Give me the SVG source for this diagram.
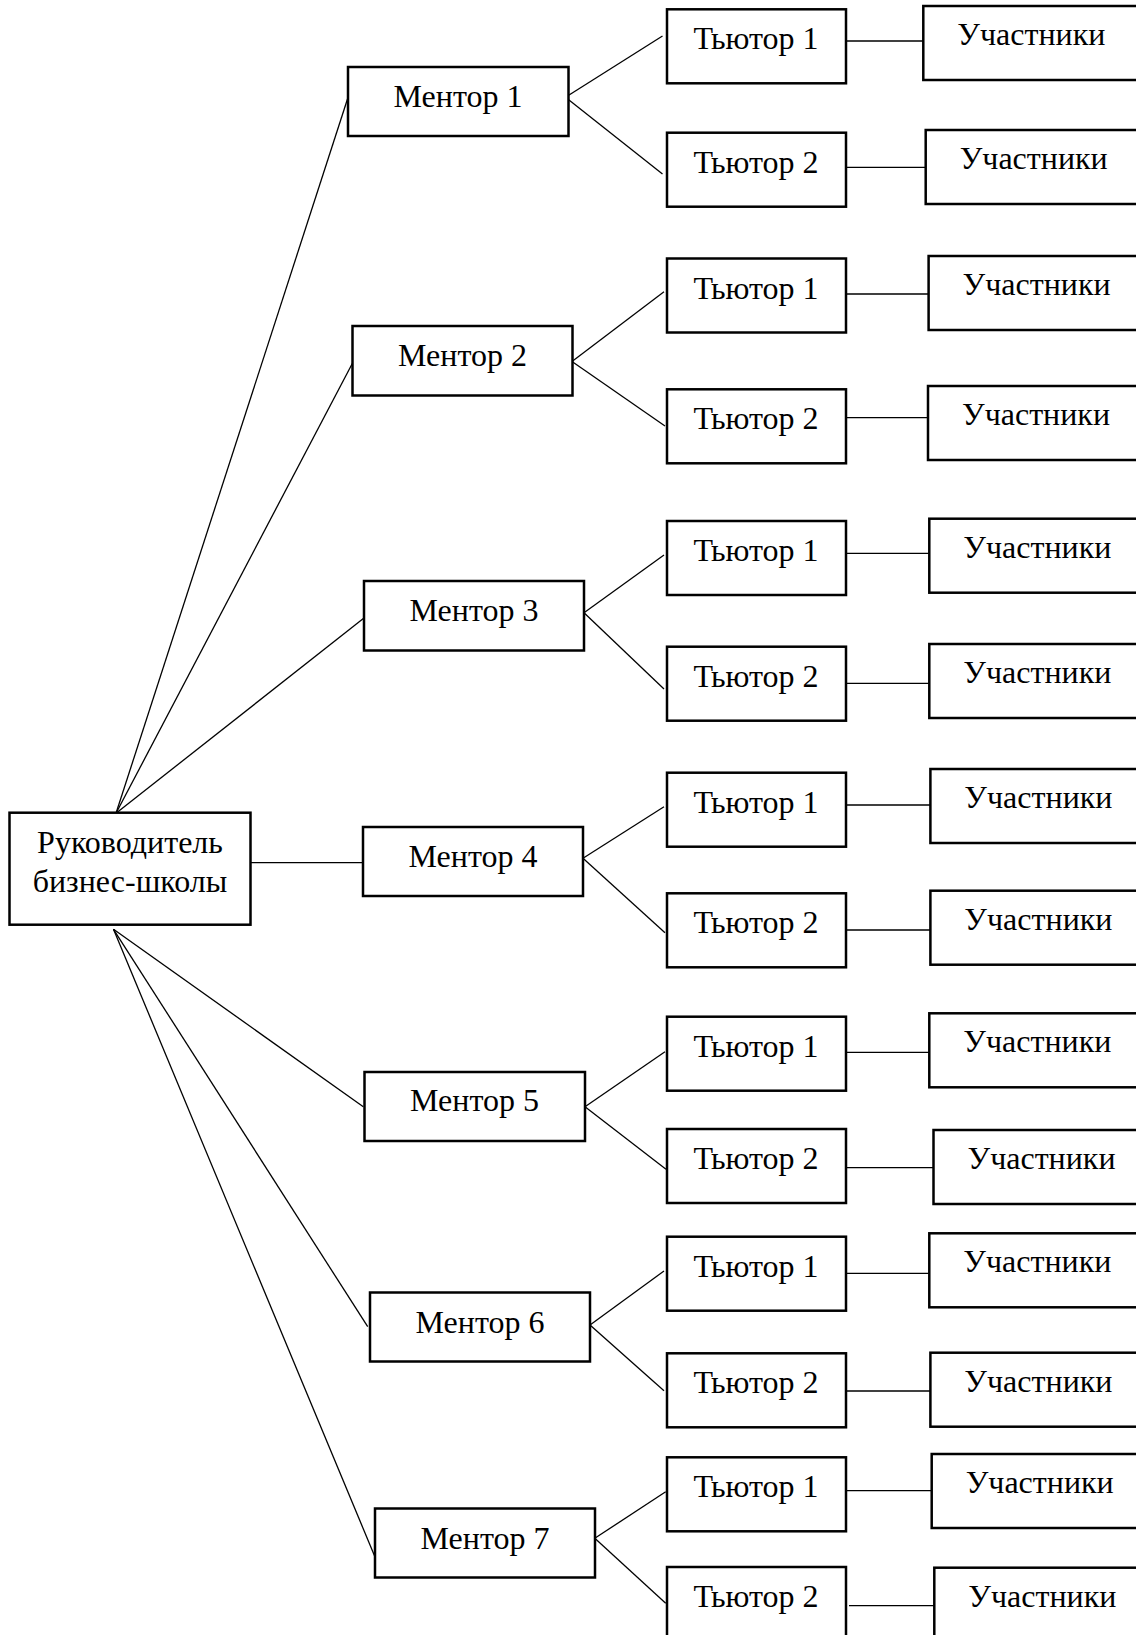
<svg xmlns="http://www.w3.org/2000/svg" width="1136" height="1635" viewBox="0 0 1136 1635">
<style>
.box{fill:#fff;stroke:#000;stroke-width:2.5}
.t{font-family:"Liberation Serif","Times New Roman",serif;font-size:32px;fill:#000;text-anchor:middle}
.c line{stroke:#000;stroke-width:1.3;fill:none}
</style>
<rect width="1136" height="1635" fill="#fff"/>
<g id="connectors" class="c">
<line x1="116" y1="813.3" x2="347.5" y2="99"/>
<line x1="116" y1="813.3" x2="352.3" y2="363.5"/>
<line x1="116" y1="813.3" x2="364" y2="618"/>
<line x1="250.7" y1="862.7" x2="363" y2="862.7"/>
<line x1="113.5" y1="929.3" x2="363.3" y2="1106.7"/>
<line x1="113.5" y1="929.3" x2="367.7" y2="1326.7"/>
<line x1="113.5" y1="929.3" x2="374.6" y2="1556"/>
<line x1="565.5" y1="97.3" x2="662.5" y2="36"/>
<line x1="565.5" y1="97.3" x2="662.5" y2="174"/>
<line x1="572" y1="361.5" x2="664" y2="291.7"/>
<line x1="572" y1="361.5" x2="665" y2="426"/>
<line x1="584" y1="612.7" x2="664" y2="555"/>
<line x1="584" y1="612.7" x2="664" y2="689"/>
<line x1="583" y1="858.3" x2="664" y2="806.7"/>
<line x1="583" y1="858.3" x2="665" y2="932.7"/>
<line x1="585" y1="1106.7" x2="665" y2="1051.7"/>
<line x1="585" y1="1106.7" x2="666" y2="1169.3"/>
<line x1="590" y1="1325" x2="664" y2="1271"/>
<line x1="590" y1="1325" x2="664" y2="1390.7"/>
<line x1="594.8" y1="1538.3" x2="665.7" y2="1491.7"/>
<line x1="594.8" y1="1538.3" x2="665.7" y2="1603.3"/>
<line x1="844" y1="41" x2="923.3" y2="41"/>
<line x1="844" y1="167.3" x2="925.7" y2="167.3"/>
<line x1="844" y1="294" x2="928.6" y2="294"/>
<line x1="844" y1="417.7" x2="928" y2="417.7"/>
<line x1="844" y1="553.3" x2="929.3" y2="553.3"/>
<line x1="844" y1="683.3" x2="929.3" y2="683.3"/>
<line x1="844" y1="805" x2="930.4" y2="805"/>
<line x1="844" y1="930" x2="930.4" y2="930"/>
<line x1="844" y1="1052.3" x2="929.3" y2="1052.3"/>
<line x1="846.7" y1="1167.7" x2="933.5" y2="1167.7"/>
<line x1="844" y1="1273.3" x2="929.3" y2="1273.3"/>
<line x1="844" y1="1391" x2="930.4" y2="1391"/>
<line x1="844" y1="1490.7" x2="931.7" y2="1490.7"/>
<line x1="849" y1="1605.7" x2="934.3" y2="1605.7"/>
</g>
<g id="root"><rect class="box" x="9.5" y="812.7" width="241" height="112"/><text class="t" x="130" y="853">Руководитель</text><text class="t" x="130" y="892">бизнес-школы</text></g>
<g id="mentor1"><rect class="box" x="348" y="67" width="220.5" height="69"/><text class="t" x="458" y="107">Ментор 1</text></g>
<g id="mentor2"><rect class="box" x="352.5" y="326" width="220" height="69.5"/><text class="t" x="462.5" y="366">Ментор 2</text></g>
<g id="mentor3"><rect class="box" x="364" y="581" width="220" height="69.5"/><text class="t" x="474" y="621">Ментор 3</text></g>
<g id="mentor4"><rect class="box" x="363" y="827" width="220" height="69"/><text class="t" x="473" y="867">Ментор 4</text></g>
<g id="mentor5"><rect class="box" x="364.5" y="1072" width="220.5" height="69"/><text class="t" x="474.5" y="1111">Ментор 5</text></g>
<g id="mentor6"><rect class="box" x="370" y="1292.5" width="220" height="69"/><text class="t" x="480" y="1332.5">Ментор 6</text></g>
<g id="mentor7"><rect class="box" x="375" y="1508.5" width="220" height="69"/><text class="t" x="485" y="1548.5">Ментор 7</text></g>
<g id="tutor1-1"><rect class="box" x="667" y="9.3" width="179" height="74"/><text class="t" x="756" y="49.3">Тьютор 1</text></g>
<g id="tutor1-2"><rect class="box" x="667" y="132.7" width="179" height="74"/><text class="t" x="756" y="172.7">Тьютор 2</text></g>
<g id="tutor2-1"><rect class="box" x="667" y="258.5" width="179" height="74"/><text class="t" x="756" y="298.5">Тьютор 1</text></g>
<g id="tutor2-2"><rect class="box" x="667" y="389.3" width="179" height="74"/><text class="t" x="756" y="429.3">Тьютор 2</text></g>
<g id="tutor3-1"><rect class="box" x="667" y="521" width="179" height="74"/><text class="t" x="756" y="561">Тьютор 1</text></g>
<g id="tutor3-2"><rect class="box" x="667" y="646.7" width="179" height="74"/><text class="t" x="756" y="686.7">Тьютор 2</text></g>
<g id="tutor4-1"><rect class="box" x="667" y="772.7" width="179" height="74"/><text class="t" x="756" y="812.7">Тьютор 1</text></g>
<g id="tutor4-2"><rect class="box" x="667" y="893.3" width="179" height="74"/><text class="t" x="756" y="933.3">Тьютор 2</text></g>
<g id="tutor5-1"><rect class="box" x="667" y="1016.7" width="179" height="74"/><text class="t" x="756" y="1056.7">Тьютор 1</text></g>
<g id="tutor5-2"><rect class="box" x="667" y="1129" width="179" height="74"/><text class="t" x="756" y="1169">Тьютор 2</text></g>
<g id="tutor6-1"><rect class="box" x="667" y="1236.7" width="179" height="74"/><text class="t" x="756" y="1276.7">Тьютор 1</text></g>
<g id="tutor6-2"><rect class="box" x="667" y="1353.3" width="179" height="74"/><text class="t" x="756" y="1393.3">Тьютор 2</text></g>
<g id="tutor7-1"><rect class="box" x="667" y="1457.3" width="179" height="74"/><text class="t" x="756" y="1497.3">Тьютор 1</text></g>
<g id="tutor7-2"><rect class="box" x="667" y="1567" width="179" height="74"/><text class="t" x="756" y="1607">Тьютор 2</text></g>
<g id="part1-1"><rect class="box" x="923.3" y="6" width="220" height="74"/><text class="t" x="1031.3" y="45">Участники</text></g>
<g id="part1-2"><rect class="box" x="925.7" y="130" width="220" height="74"/><text class="t" x="1033.7" y="169">Участники</text></g>
<g id="part2-1"><rect class="box" x="928.6" y="256" width="220" height="74"/><text class="t" x="1036.6" y="295">Участники</text></g>
<g id="part2-2"><rect class="box" x="928" y="386" width="220" height="74"/><text class="t" x="1036" y="425">Участники</text></g>
<g id="part3-1"><rect class="box" x="929.3" y="518.7" width="220" height="74"/><text class="t" x="1037.3" y="557.7">Участники</text></g>
<g id="part3-2"><rect class="box" x="929.3" y="644" width="220" height="74"/><text class="t" x="1037.3" y="683">Участники</text></g>
<g id="part4-1"><rect class="box" x="930.4" y="769" width="220" height="74"/><text class="t" x="1038.4" y="808">Участники</text></g>
<g id="part4-2"><rect class="box" x="930.4" y="890.7" width="220" height="74"/><text class="t" x="1038.4" y="929.7">Участники</text></g>
<g id="part5-1"><rect class="box" x="929.3" y="1013.3" width="220" height="74"/><text class="t" x="1037.3" y="1052.3">Участники</text></g>
<g id="part5-2"><rect class="box" x="933.5" y="1130" width="220" height="74"/><text class="t" x="1041.5" y="1169">Участники</text></g>
<g id="part6-1"><rect class="box" x="929.3" y="1233.3" width="220" height="74"/><text class="t" x="1037.3" y="1272.3">Участники</text></g>
<g id="part6-2"><rect class="box" x="930.4" y="1352.7" width="220" height="74"/><text class="t" x="1038.4" y="1391.7">Участники</text></g>
<g id="part7-1"><rect class="box" x="931.7" y="1454" width="220" height="74"/><text class="t" x="1039.7" y="1493">Участники</text></g>
<g id="part7-2"><rect class="box" x="934.3" y="1567.7" width="220" height="74"/><text class="t" x="1042.3" y="1606.7">Участники</text></g>
</svg>
